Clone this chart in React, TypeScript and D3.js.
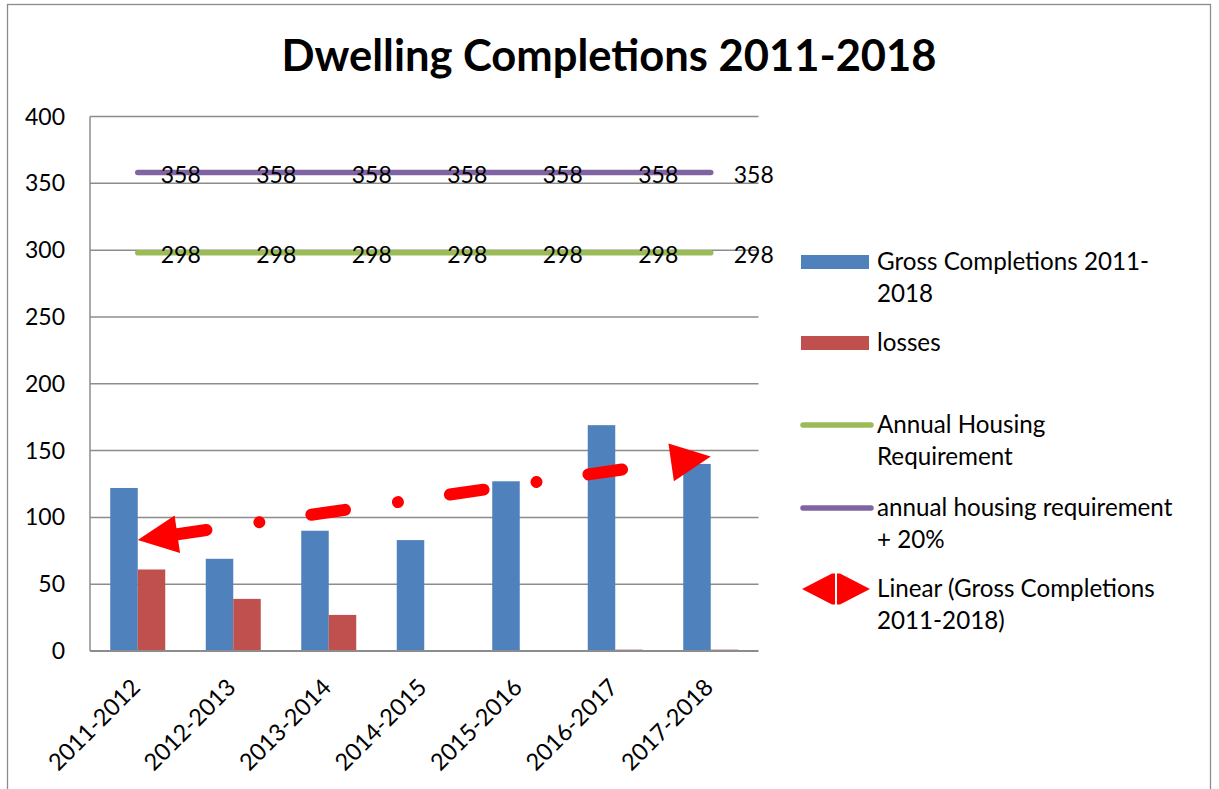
import React from 'react';
import * as d3 from 'd3';

const categories = ['2011-2012', '2012-2013', '2013-2014', '2014-2015', '2015-2016', '2016-2017', '2017-2018'];
const grossCompletions = [122, 69, 90, 83, 127, 169, 140];
const losses = [61, 39, 27, 0, 0, 1, 1];
const annualRequirement = [298, 298, 298, 298, 298, 298, 298];
const requirementPlus20 = [358, 358, 358, 358, 358, 358, 358];
const yTicks = [0, 50, 100, 150, 200, 250, 300, 350, 400];

const W = 1219;
const H = 789;
const FONT = 'Lato, "Open Sans", sans-serif';
const BLUE = '#4F81BD';
const RED = '#C0504D';
const GREEN = '#9BBB59';
const PURPLE = '#8064A2';
const TREND = '#FF0000';
const GRID = '#8C8C8C';

export default function App() {
  const plotLeft = 90;
  const plotRight = 758.5;
  const plotTop = 116.5;
  const plotBottom = 651;

  const x = d3.scaleBand<string>().domain(categories).range([plotLeft, plotRight]).paddingInner(0.424).paddingOuter(0.212);
  const sub = d3.scaleBand<string>().domain(['gross', 'losses']).range([0, x.bandwidth()]);
  const y = d3.scaleLinear().domain([0, 400]).range([plotBottom, plotTop]);
  const cx = (c: string) => (x(c) as number) + x.bandwidth() / 2;

  // Linear trendline (least squares) of gross completions
  const xs = categories.map((_, i) => i + 1);
  const mx = d3.mean(xs) as number;
  const my = d3.mean(grossCompletions) as number;
  const slope = d3.sum(xs.map((v, i) => (v - mx) * (grossCompletions[i] - my))) / d3.sum(xs.map((v) => (v - mx) ** 2));
  const intercept = my - slope * mx;
  const tStart = { x: cx(categories[0]), y: y(intercept + slope * 1) };
  const tEnd = { x: cx(categories[categories.length - 1]), y: y(intercept + slope * categories.length) };
  const dxT = tEnd.x - tStart.x;
  const dyT = tEnd.y - tStart.y;
  const lenT = Math.hypot(dxT, dyT);
  const ux = dxT / lenT;
  const uy = dyT / lenT;
  const headLen = 40;
  const headHalf = 19;
  const leftBase = { x: tStart.x + ux * headLen, y: tStart.y + uy * headLen };
  const rightBase = { x: tEnd.x - ux * headLen, y: tEnd.y - uy * headLen };
  const px = -uy;
  const py = ux;
  const leftHead = [
    [tStart.x, tStart.y],
    [leftBase.x + px * headHalf, leftBase.y + py * headHalf],
    [leftBase.x - px * headHalf, leftBase.y - py * headHalf],
  ];
  const rightHead = [
    [tEnd.x, tEnd.y],
    [rightBase.x + px * headHalf, rightBase.y + py * headHalf],
    [rightBase.x - px * headHalf, rightBase.y - py * headHalf],
  ];
  const lineGen = d3.line<number>().x((_, i) => cx(categories[i])).y((d) => y(d));

  const legendX = 801;
  const legendTextX = 877;
  const legendItems = [
    { kind: 'rect', color: BLUE, cy: 262, lines: ['Gross Completions 2011-', '2018'] },
    { kind: 'rect', color: RED, cy: 343, lines: ['losses'] },
    { kind: 'line', color: GREEN, cy: 425, lines: ['Annual Housing', 'Requirement'] },
    { kind: 'line', color: PURPLE, cy: 508, lines: ['annual housing requirement', '+ 20%'] },
    { kind: 'trend', color: TREND, cy: 589, lines: ['Linear (Gross Completions', '2011-2018)'] },
  ];

  return (
    <svg width={W} height={H} style={{ position: 'absolute', left: 0, top: 0, background: '#fff' }} fontFamily={FONT}>
      <rect x={0} y={0} width={W} height={H} fill="#fff" />
      <rect x={7.5} y={4.5} width={1203} height={820} fill="none" stroke="#8C8C8C" strokeWidth={1.3} />
      <text x={609} y={71} textAnchor="middle" fontSize={43.5} fontWeight="bold" fill="#000">
        Dwelling Completions 2011-2018
      </text>

      {/* gridlines */}
      {yTicks.filter((t) => t > 0).map((t) => (
        <line key={t} x1={plotLeft} x2={plotRight} y1={y(t)} y2={y(t)} stroke={GRID} strokeWidth={1.5} />
      ))}
      <line x1={plotLeft} x2={plotLeft} y1={plotTop} y2={plotBottom} stroke={GRID} strokeWidth={1.5} />
      {yTicks.map((t) => (
        <text key={t} x={65} y={y(t)} dy="0.35em" textAnchor="end" fontSize={23} fill="#000">
          {t}
        </text>
      ))}

      {/* bars */}
      {categories.map((c, i) => (
        <g key={c}>
          <rect x={(x(c) as number) + (sub('gross') as number)} width={sub.bandwidth()} y={y(grossCompletions[i])} height={y(0) - y(grossCompletions[i])} fill={BLUE} />
          <rect x={(x(c) as number) + (sub('losses') as number)} width={sub.bandwidth()} y={y(losses[i])} height={y(0) - y(losses[i])} fill={RED} />
        </g>
      ))}
      <line x1={plotLeft} x2={plotRight} y1={plotBottom} y2={plotBottom} stroke={GRID} strokeWidth={2} />

      {/* x labels */}
      {categories.map((c) => (
        <text key={c} transform={`translate(${cx(c) - 2},${plotBottom + 32}) rotate(-45)`} dy="0.35em" textAnchor="end" fontSize={23.5} fill="#000">
          {c}
        </text>
      ))}

      {/* requirement lines */}
      <path d={lineGen(requirementPlus20) as string} fill="none" stroke={PURPLE} strokeWidth={5.5} strokeLinecap="round" />
      <path d={lineGen(annualRequirement) as string} fill="none" stroke={GREEN} strokeWidth={5.5} strokeLinecap="round" />
      {requirementPlus20.map((v, i) => (
        <text key={'p' + i} x={cx(categories[i]) + 23} y={y(v) + 2} dy="0.35em" fontSize={23} fill="#000">
          {v}
        </text>
      ))}
      {annualRequirement.map((v, i) => (
        <text key={'g' + i} x={cx(categories[i]) + 23} y={y(v) + 2} dy="0.35em" fontSize={23} fill="#000">
          {v}
        </text>
      ))}

      {/* trendline */}
      <line x1={leftBase.x} y1={leftBase.y} x2={rightBase.x} y2={rightBase.y} stroke={TREND} strokeWidth={12} strokeLinecap="round" strokeDasharray="34 53.5 0.01 52.5" strokeDashoffset={4.6} />
      <polygon points={leftHead.map((p) => p.join(',')).join(' ')} fill={TREND} />
      <polygon points={rightHead.map((p) => p.join(',')).join(' ')} fill={TREND} />

      {/* legend */}
      {legendItems.map((it) => (
        <g key={it.lines[0]}>
          {it.kind === 'rect' && <rect x={legendX} y={it.cy - 7} width={68} height={14} fill={it.color} />}
          {it.kind === 'line' && <line x1={legendX + 2} x2={legendX + 70} y1={it.cy} y2={it.cy} stroke={it.color} strokeWidth={5.5} strokeLinecap="round" />}
          {it.kind === 'trend' && (
            <g fill={it.color}>
              <polygon points={`${legendX + 1},${it.cy} ${legendX + 31},${it.cy - 15.5} ${legendX + 34},${it.cy - 15.5} ${legendX + 34},${it.cy + 15.5} ${legendX + 31},${it.cy + 15.5}`} />
              <polygon points={`${legendX + 69},${it.cy} ${legendX + 39},${it.cy - 15.5} ${legendX + 36},${it.cy - 15.5} ${legendX + 36},${it.cy + 15.5} ${legendX + 39},${it.cy + 15.5}`} />
            </g>
          )}
          {it.lines.map((l, j) => (
            <text key={j} x={legendTextX} y={it.cy + j * 32} dy="0.35em" fontSize={24.2} fill="#000">
              {l}
            </text>
          ))}
        </g>
      ))}
    </svg>
  );
}
